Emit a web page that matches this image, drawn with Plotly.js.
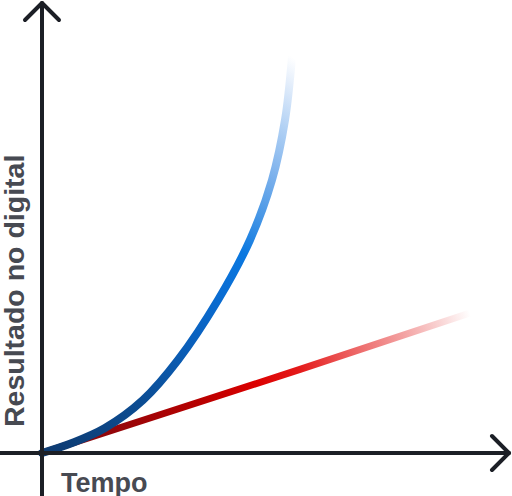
<!DOCTYPE html>
<html>
<head>
<meta charset="utf-8">
<script src="https://cdn.plot.ly/plotly-3.0.1.min.js"></script>
<style>html,body{margin:0;padding:0;background:#fff;}#chart{width:512px;height:496px;}</style>
</head>
<body>
<div id="chart"></div>
<script>
// Blue curve (exponential-like growth)
const blueX = [0, 0.75, 1.575, 2.525, 3.4, 4.4, 5.2, 5.75, 6.075, 6.25];
const blueY = [0, 0.25, 0.625, 1.325, 2.325, 3.825, 5.325, 6.825, 8.325, 9.9];
// Red line (linear growth)
const redX = [0, 2.45, 6.45, 10.7];
const redY = [0, 0.78, 2.09, 3.5];
// Labels
const xLabel = 'Tempo';
const yLabel = 'Resultado no digital';
// Axis extents (data units)
const xRange = [-1.05, 11.75];
const yRange = [-1.075, 11.325];
const xAxisEnd = 11.675;
const yAxisEnd = 11.25;

const blueStops = [[0,'#0d3a70'],[0.2,'#0c4c92'],[0.39,'#0a62c0'],[0.5,'#0a6ed4'],[0.59,'#0b78e0'],[0.68,'#4a98e6'],[0.76,'#7ab0ec'],[0.86,'#b0d0f4'],[0.95,'#e4eefb'],[1,'#ffffff']];
const redStops = [[0,'#7a0a10'],[0.2,'#9a0508'],[0.37,'#b80000'],[0.5,'#dc0000'],[0.6,'#e41a1a'],[0.72,'#ec6060'],[0.84,'#f3a0a0'],[0.93,'#f9d4d4'],[1,'#ffffff']];

const axisColor = '#1c1f26';
const textColor = '#474a52';

const traces = [
  {x: redX, y: redY, mode: 'lines', line: {color: '#d00000', width: 7}, hoverinfo: 'skip'},
  {x: blueX, y: blueY, mode: 'lines', line: {color: '#0a62c0', width: 8, shape: 'spline', smoothing: 1}, hoverinfo: 'skip'}
];

const ah = 0.425; // arrow half width
const al = 0.425; // arrow length
const shapes = [
  {type: 'line', xref: 'x', yref: 'y', x0: 0, y0: yRange[0], x1: 0, y1: yAxisEnd, line: {color: axisColor, width: 4}},
  {type: 'line', xref: 'x', yref: 'y', x0: xRange[0], y0: 0, x1: xAxisEnd, y1: 0, line: {color: axisColor, width: 4}},
  {type: 'path', xref: 'x', yref: 'y', path: `M ${-ah},${yAxisEnd-al} L 0,${yAxisEnd} L ${ah},${yAxisEnd-al}`, line: {color: axisColor, width: 4}},
  {type: 'path', xref: 'x', yref: 'y', path: `M ${xAxisEnd-al},${ah} L ${xAxisEnd},0 L ${xAxisEnd-al},${-ah}`, line: {color: axisColor, width: 4}}
];

const layout = {
  width: 512, height: 496,
  margin: {l: 0, r: 0, t: 0, b: 0, pad: 0},
  paper_bgcolor: '#ffffff', plot_bgcolor: '#ffffff',
  showlegend: false,
  xaxis: {range: xRange, showgrid: false, zeroline: false, showticklabels: false, showline: false, ticks: ''},
  yaxis: {range: yRange, showgrid: false, zeroline: false, showticklabels: false, showline: false, ticks: ''},
  shapes: shapes,
  annotations: [
    {x: 0.43, y: -0.33, xref: 'x', yref: 'y', xanchor: 'left', yanchor: 'top', showarrow: false, text: xLabel,
     font: {family: 'Liberation Sans, Arial, sans-serif', size: 27, color: textColor, weight: 'bold'}},
    {x: -0.7, y: 4.05, xref: 'x', yref: 'y', xanchor: 'center', yanchor: 'middle', showarrow: false, text: yLabel, textangle: -90,
     font: {family: 'Liberation Sans, Arial, sans-serif', size: 28.5, color: textColor, weight: 'bold'}}
  ]
};

function addGradient(gd, id, xs, ys, stops) {
  const NS = 'http://www.w3.org/2000/svg';
  const defs = gd.querySelector('.main-svg defs');
  const xa = gd._fullLayout.xaxis, ya = gd._fullLayout.yaxis;
  const g = document.createElementNS(NS, 'linearGradient');
  g.setAttribute('id', id);
  g.setAttribute('gradientUnits', 'userSpaceOnUse');
  g.setAttribute('x1', xa.l2p(xs[0]));
  g.setAttribute('y1', ya.l2p(ys[0]));
  g.setAttribute('x2', xa.l2p(xs[xs.length-1]));
  g.setAttribute('y2', ya.l2p(ys[ys.length-1]));
  stops.forEach(s => {
    const st = document.createElementNS(NS, 'stop');
    st.setAttribute('offset', s[0]);
    st.setAttribute('stop-color', s[1]);
    g.appendChild(st);
  });
  defs.appendChild(g);
}

const gd = document.getElementById('chart');
Plotly.newPlot(gd, traces, layout, {staticPlot: true, displayModeBar: false}).then(() => {
  addGradient(gd, 'gradRed', redX, redY, redStops);
  addGradient(gd, 'gradBlue', blueX, blueY, blueStops);
  const lines = gd.querySelectorAll('.scatterlayer .trace path.js-line');
  const ids = ['gradRed', 'gradBlue'];
  lines.forEach((p, i) => {
    p.style.stroke = `url(#${ids[i]})`;
    p.style.strokeLinecap = 'round';
  });
  gd.querySelectorAll('.shapelayer path').forEach(p => {
    p.style.strokeLinecap = 'round';
    p.style.strokeLinejoin = 'round';
  });
});
</script>
</body>
</html>
